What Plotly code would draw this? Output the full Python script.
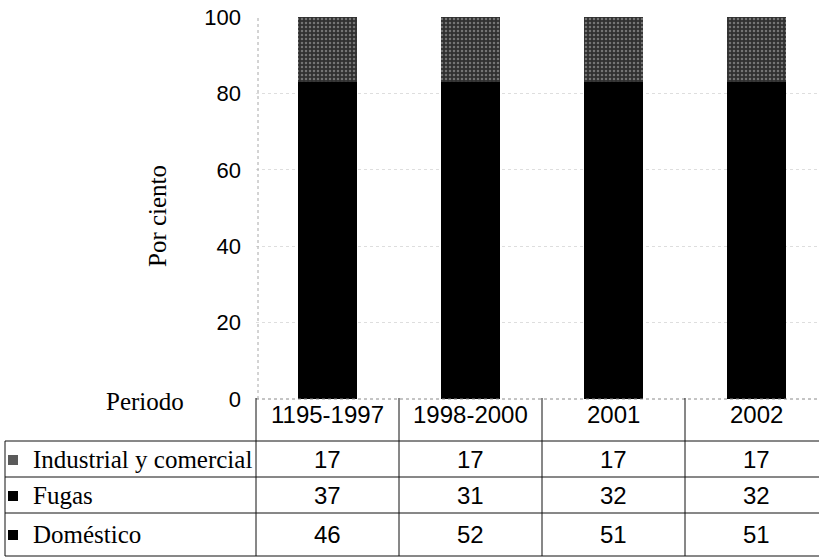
import plotly.graph_objects as go

# Water use by sector, share of total (per cent)
periodos = ["1195-1997", "1998-2000", "2001", "2002"]
domestico = [46, 52, 51, 51]
fugas = [37, 31, 32, 32]
industrial = [17, 17, 17, 17]
y_ticks = [0, 20, 40, 60, 80, 100]

W, H = 819, 557
L, T, B = 256, 17, 158          # plot margins (px)
PW, PH = W - L, H - T - B        # plot area size
CAT_W = 143                      # px per category column
x_max = -0.5 + PW / CAT_W

SERIF = "Liberation Serif"
SANS = "Liberation Sans"

fig = go.Figure()
fig.add_bar(x=periodos, y=domestico, name="Doméstico",
            marker=dict(color="#000000", line=dict(width=0)), width=0.41)
fig.add_bar(x=periodos, y=fugas, name="Fugas",
            marker=dict(color="#000000", line=dict(width=0)), width=0.41)
fig.add_bar(x=periodos, y=industrial, name="Industrial y comercial",
            marker=dict(color="#3a3a3a", line=dict(width=0),
                        pattern=dict(shape=".", bgcolor="#303030",
                                     fgcolor="#b8b8b8", size=4, solidity=0.3)),
            width=0.41)


def px_x(px):
    return (px - L) / PW


def px_y(py):
    return (T + PH - py) / PH


shapes = []
line = dict(color="#111111", width=1)

# dotted axis lines
shapes.append(dict(type="line", xref="paper", yref="paper",
                   x0=px_x(258), x1=px_x(258), y0=0, y1=1,
                   line=dict(color="#a8a8a8", width=1, dash="dot")))
shapes.append(dict(type="line", xref="paper", yref="paper",
                   x0=0, x1=1, y0=0, y1=0,
                   line=dict(color="#8a8a8a", width=1, dash="dot")))

# data table below the plot
row_lines = [441, 477, 513, 556]
col_lines = [L + k * CAT_W for k in range(5)]
for ry in row_lines:
    shapes.append(dict(type="line", xref="paper", yref="paper",
                       x0=px_x(5), x1=px_x(W + 10), y0=px_y(ry), y1=px_y(ry),
                       line=line))
shapes.append(dict(type="line", xref="paper", yref="paper",
                   x0=px_x(5), x1=px_x(5), y0=px_y(441), y1=px_y(556), line=line))
for cx in col_lines:
    shapes.append(dict(type="line", xref="paper", yref="paper",
                       x0=px_x(cx), x1=px_x(cx), y0=px_y(398), y1=px_y(556),
                       line=line))


def text(x, y, s, font, xref="paper", xanchor="center", angle=0):
    return dict(x=x, y=y, xref=xref, yref="paper", text=s, showarrow=False,
                xanchor=xanchor, yanchor="middle", textangle=angle, font=font)


sans = dict(family=SANS, size=24, color="#000")
serif = dict(family=SERIF, size=25, color="#000")

annotations = []
# header row: period labels
for i, p in enumerate(periodos):
    annotations.append(text(i, px_y(414), p, sans, xref="x"))
annotations.append(text(px_x(145), px_y(401), "Periodo", serif))

rows = [("Industrial y comercial", industrial, "#5a5a5a", 459),
        ("Fugas", fugas, "#000000", 495),
        ("Doméstico", domestico, "#000000", 534)]
for name, vals, col, cy in rows:
    shapes.append(dict(type="rect", xref="paper", yref="paper",
                       x0=px_x(8), x1=px_x(18), y0=px_y(cy - 4), y1=px_y(cy + 6),
                       fillcolor=col, line=dict(width=0)))
    annotations.append(text(px_x(31), px_y(cy), name, serif, xanchor="left"))
    for i, v in enumerate(vals):
        annotations.append(text(i, px_y(cy), str(v), sans, xref="x"))

# rotated axis title
annotations.append(text(px_x(157), px_y(216), "Por ciento", serif, angle=-90))

fig.update_layout(
    width=W, height=H, barmode="stack", showlegend=False,
    margin=dict(l=L, r=0, t=T, b=B, pad=0),
    paper_bgcolor="white", plot_bgcolor="white",
    shapes=shapes, annotations=annotations,
    xaxis=dict(range=[-0.5, x_max], showticklabels=False, showgrid=False,
               zeroline=False, showline=False, ticks=""),
    yaxis=dict(range=[0, 100], tickvals=y_ticks, showgrid=True,
               gridcolor="#dedede", griddash="dot", gridwidth=1,
               zeroline=False, showline=False, ticks="", ticklabelstandoff=14,
               tickfont=dict(family=SANS, size=22, color="#000")),
)

fig.write_html("out.html")
